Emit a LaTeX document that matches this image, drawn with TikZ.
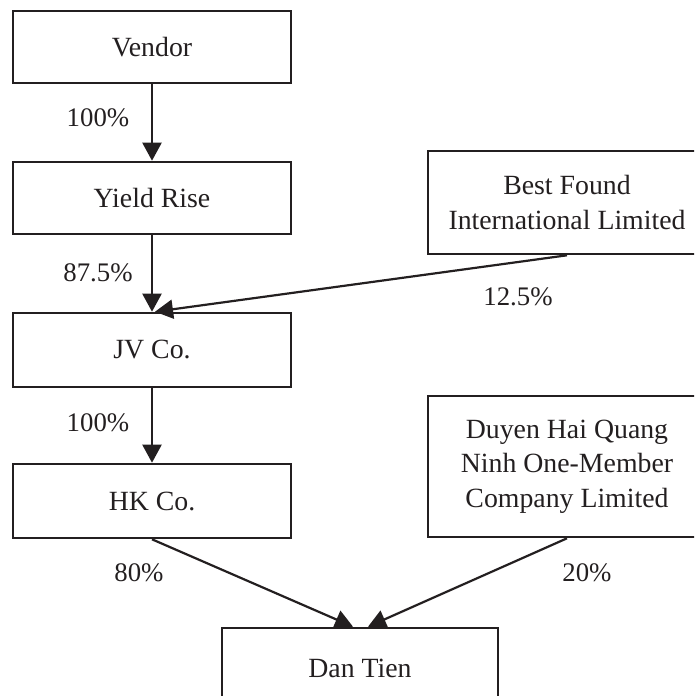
\documentclass[tikz,border=0pt]{standalone}
\usepackage{fontspec}
\setmainfont{Liberation Serif}
\usetikzlibrary{arrows.meta}
\definecolor{inkk}{rgb}{0.137,0.122,0.125}

\begin{document}
\begin{tikzpicture}[x=1pt,y=-1pt,line cap=butt,line join=miter,
    ent/.style={draw=inkk,line width=2.6pt,minimum width=278pt,inner sep=0pt,
      align=center,text=inkk,font=\fontsize{27.8}{34.5}\selectfont},
    pct/.style={text=inkk,inner sep=0pt,font=\fontsize{26.8}{32}\selectfont},
    own/.style={draw=inkk,line width=2.2pt,-{Triangle[length=18pt,width=19pt]}}]
    \useasboundingbox (0,0) rectangle (694,696);
    \clip (0,0) rectangle (694,696);
    \node[ent,minimum height=72pt] (vendor) at (152,47) {Vendor};
    \node[ent,minimum height=72pt] (yield) at (152,198) {Yield Rise};
    \node[ent,minimum height=74pt] (jv) at (152,350) {JV Co.};
    \node[ent,minimum height=74pt] (hk) at (152,501) {HK Co.};
    \node[ent,minimum height=103pt] (best) at (567,202.5) {Best Found\\International Limited};
    \node[ent,minimum height=141pt] (duyen) at (567,466.5) {Duyen Hai Quang\\Ninh One-Member\\Company Limited};
    \node[ent,minimum width=276pt,minimum height=80pt] (dan) at (360,668) {Dan Tien};
    \draw[own] (vendor) -- (yield);
    \draw[own] (yield) -- (jv);
    \draw[own] (best.south) -- ([xshift=3pt]jv.north);
    \draw[own] (jv) -- (hk);
    \draw[own] (hk.south) -- ([xshift=-7pt]dan.north);
    \draw[own] (duyen.south) -- ([xshift=8pt]dan.north);
    \node[pct] (p1) at (98,118) {100\%};
    \node[pct] (p2) at (98,273) {87.5\%};
    \node[pct] (p3) at (518,297) {12.5\%};
    \node[pct] (p4) at (98,423) {100\%};
    \node[pct] (p5) at (139,573) {80\%};
    \node[pct] (p6) at (587,573) {20\%};
\end{tikzpicture}
\end{document}
